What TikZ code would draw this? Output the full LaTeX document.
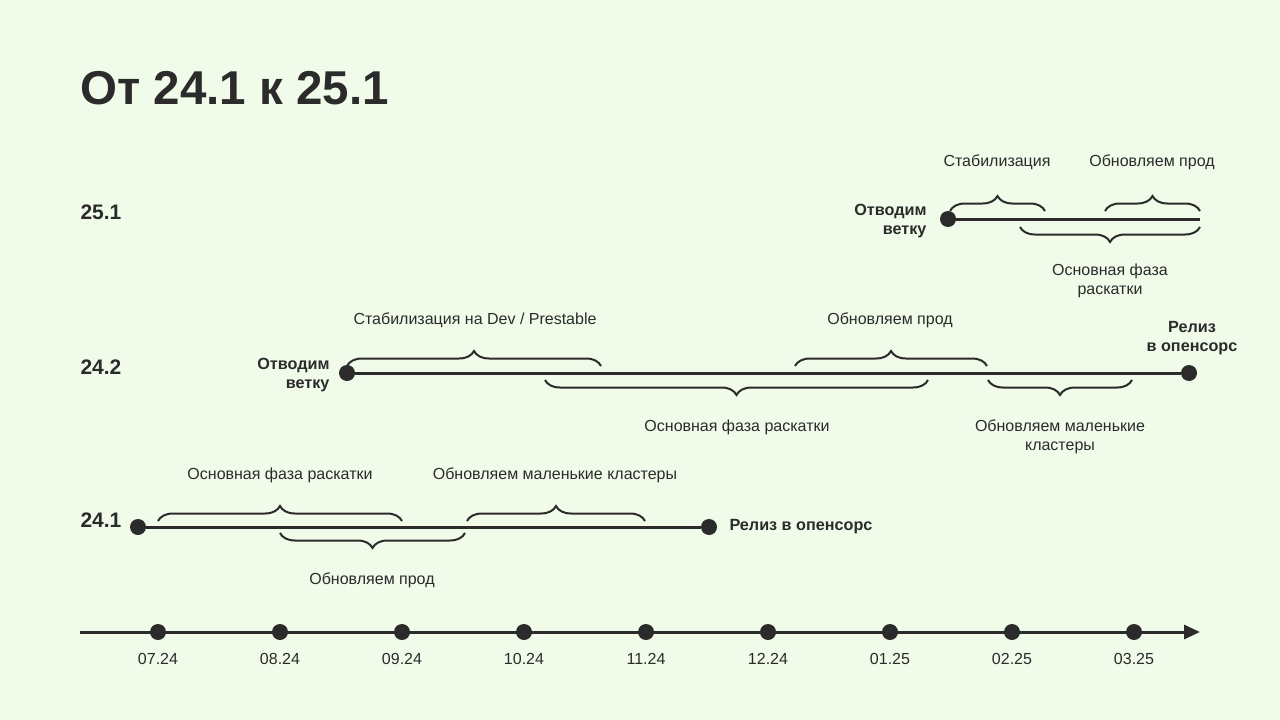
\documentclass[tikz,border=0pt]{standalone}
\usepackage{fontspec}
\setmainfont{Liberation Sans}
\usetikzlibrary{decorations.pathreplacing,arrows.meta}
\definecolor{bg}{HTML}{F1FBEA}
\definecolor{ink}{HTML}{2B2B2B}
\tikzset{
  tl/.style={line width=3pt,draw=ink},
  dotn/.style={circle,fill=ink,inner sep=0pt,minimum size=16pt},
  br/.style={draw=ink,line width=2pt,decorate,decoration={brace,amplitude=15pt}},
  lab/.style={text=ink,font=\fontsize{16}{19.5}\selectfont,align=center},
  blab/.style={text=ink,font=\bfseries\fontsize{16.2}{19.5}\selectfont},
  ver/.style={text=ink,font=\bfseries\fontsize{21}{23}\selectfont,anchor=west},
  ax/.style={text=ink,font=\fontsize{16}{18}\selectfont}
}
\begin{document}
\begin{tikzpicture}[x=1pt,y=-1pt]
\fill[bg] (0,0) rectangle (1280,720);
\useasboundingbox (0,0) rectangle (1280,720);
\node[anchor=west,text=ink,font=\bfseries\fontsize{47.5}{52}\selectfont] (title) at (77,88) {От 24.1 к 25.1};
% axis
\coordinate (a0) at (80,632); \coordinate (a1) at (1200,632);
\draw[tl,-{Triangle[length=16pt,width=14pt]}] (a0) -- (a1);
\foreach \x/\l [count=\i] in {158/07.24,280/08.24,402/09.24,524/10.24,646/11.24,768/12.24,890/01.25,1012/02.25,1134/03.25}{
  \node[dotn] (d\i) at (\x,632) {};
  \node[ax] (dl\i) at (\x,659) {\l};
}
% 24.1
\node[ver] (v1) at (77,520) {24.1};
\node[dotn] (s1) at (138,527) {}; \node[dotn] (e1) at (709,527) {};
\draw[tl] (s1) -- (e1);
\node[blab,anchor=west] (r1) at (726,527) {Релиз в опенсорс};
\coordinate (b1a) at (158,521); \coordinate (b1b) at (402,521);
\draw[br] (b1a) -- (b1b);
\node[lab] (l1a) at (280,475) {Основная фаза раскатки};
\coordinate (b1c) at (467,521); \coordinate (b1d) at (645,521);
\draw[br] (b1c) -- (b1d);
\node[lab] (l1b) at (555,475) {Обновляем маленькие кластеры};
\coordinate (b1e) at (465,533); \coordinate (b1f) at (280,533);
\draw[br] (b1e) -- (b1f);
\node[lab] (l1c) at (372,580) {Обновляем прод};
% 24.2
\node[ver] (v2) at (77,367) {24.2};
\node[dotn] (s2) at (347,373) {}; \node[dotn] (e2) at (1189,373) {};
\draw[tl] (s2) -- (e2);
\node[blab,align=right,anchor=east] (o2) at (333,375) {Отводим\\ветку};
\node[blab,align=center] (r2) at (1192,338) {Релиз\\в опенсорс};
\coordinate (b2a) at (347,366); \coordinate (b2b) at (601,366);
\draw[br] (b2a) -- (b2b);
\node[lab] (l2a) at (475,320) {Стабилизация на Dev / Prestable};
\coordinate (b2c) at (795,366); \coordinate (b2d) at (987,366);
\draw[br] (b2c) -- (b2d);
\node[lab] (l2b) at (890,320) {Обновляем прод};
\coordinate (b2e) at (928,380); \coordinate (b2f) at (545,380);
\draw[br] (b2e) -- (b2f);
\node[lab] (l2c) at (737,427) {Основная фаза раскатки};
\coordinate (b2g) at (1132,380); \coordinate (b2h) at (988,380);
\draw[br] (b2g) -- (b2h);
\node[lab] (l2d) at (1060,437) {Обновляем маленькие\\кластеры};
% 25.1
\node[ver] (v3) at (77,212) {25.1};
\node[dotn] (s3) at (948,219) {}; \coordinate (e3) at (1200,219);
\draw[tl] (s3) -- (e3);
\node[blab,align=right,anchor=east] (o3) at (930,221) {Отводим\\ветку};
\coordinate (b3a) at (950,211); \coordinate (b3b) at (1045,211);
\draw[br] (b3a) -- (b3b);
\node[lab] (l3a) at (997,162) {Стабилизация};
\coordinate (b3c) at (1105,211); \coordinate (b3d) at (1200,211);
\draw[br] (b3c) -- (b3d);
\node[lab] (l3b) at (1152,162) {Обновляем прод};
\coordinate (b3e) at (1200,227); \coordinate (b3f) at (1020,227);
\draw[br] (b3e) -- (b3f);
\node[lab] (l3c) at (1110,281) {Основная фаза\\раскатки};
\end{tikzpicture}
\end{document}
